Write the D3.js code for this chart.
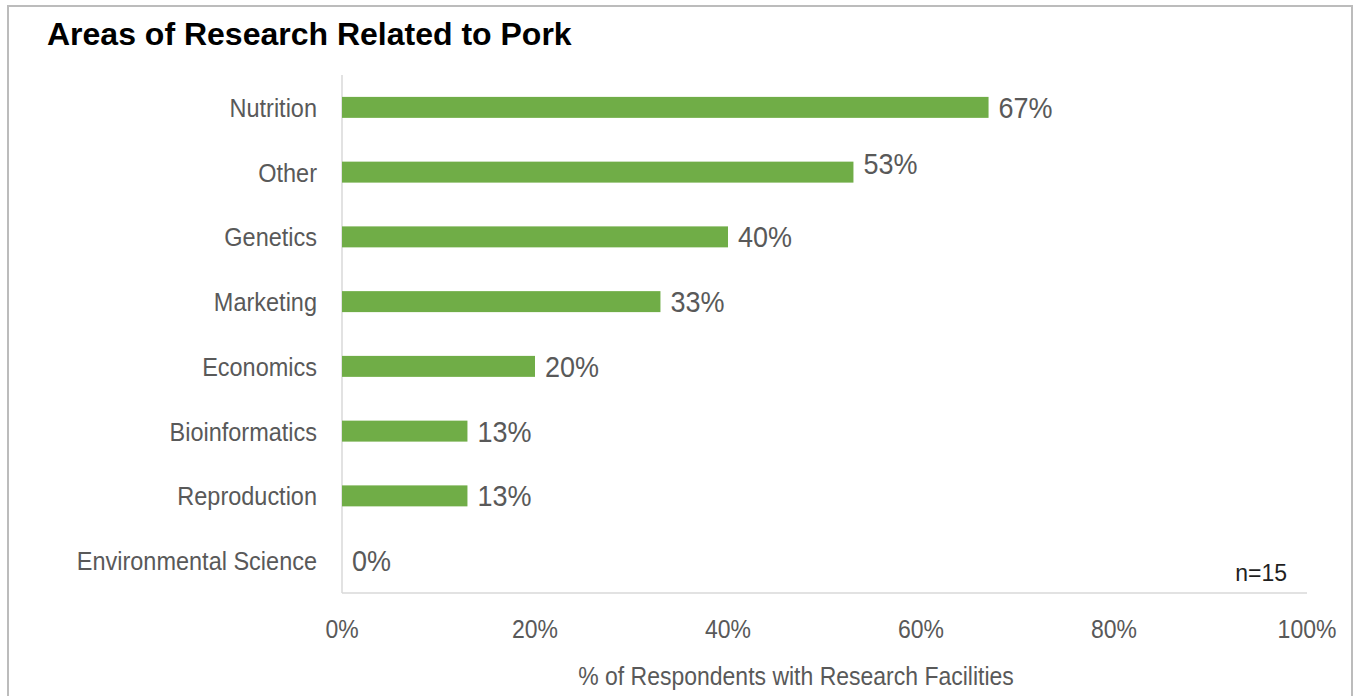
<!DOCTYPE html>
<html>
<head>
<meta charset="utf-8">
<script src="https://cdn.jsdelivr.net/npm/d3@7"></script>
<style>
  html, body { margin: 0; padding: 0; background: #fff; }
  svg { display: block; }
  text { font-family: "Liberation Sans", Arial, sans-serif; }
</style>
</head>
<body>
<script>
// Survey results: share of respondents with research facilities, by research area
const categories = ["Nutrition", "Other", "Genetics", "Marketing", "Economics",
                    "Bioinformatics", "Reproduction", "Environmental Science"];
const values = [67, 53, 40, 33, 20, 13, 13, 0];
const xTicks = [0, 20, 40, 60, 80, 100];
const sampleNote = "n=15";
const chartTitle = "Areas of Research Related to Pork";
const xTitle = "% of Respondents with Research Facilities";

const W = 1354, H = 696;
const SY = 1.1; // the chart's text is set slightly tall

const svg = d3.select("body").append("svg")
  .attr("width", W).attr("height", H);

// panel frame (open at the bottom)
svg.append("path")
  .attr("d", `M8,${H + 2} V6 H1352 V${H + 2}`)
  .attr("fill", "none")
  .attr("stroke", "#bcbcbc")
  .attr("stroke-width", 2);

const plot = { left: 342, right: 1307, top: 75, bottom: 593 };

const x = d3.scaleLinear().domain([0, 100]).range([plot.left, plot.right]);
const pad = 0.676;
const y = d3.scaleBand().domain(categories)
  .range([plot.top, plot.bottom])
  .paddingInner(pad).paddingOuter(pad / 2);

// helper: text anchored at (px, py) baseline, stretched vertically
function tallText(g, px, py, sy) {
  return g.attr("transform", `translate(${px},${py}) scale(1,${sy})`);
}

// title
svg.append("text")
  .attr("x", 47).attr("y", 45)
  .attr("font-size", 32).attr("font-weight", "bold")
  .attr("fill", "#000")
  .text(chartTitle);

// axis lines
svg.append("line")
  .attr("x1", plot.left).attr("x2", plot.left)
  .attr("y1", plot.top).attr("y2", plot.bottom)
  .attr("stroke", "#d9d9d9").attr("stroke-width", 1.5);
svg.append("line")
  .attr("x1", plot.left).attr("x2", plot.right)
  .attr("y1", plot.bottom).attr("y2", plot.bottom)
  .attr("stroke", "#d9d9d9").attr("stroke-width", 1.5);

// bars
svg.append("g").selectAll("rect")
  .data(categories)
  .join("rect")
  .attr("x", x(0))
  .attr("y", d => y(d))
  .attr("width", (d, i) => x(values[i]) - x(0))
  .attr("height", y.bandwidth())
  .attr("fill", "#70ad47");

// category labels
svg.append("g").selectAll("text")
  .data(categories)
  .join("text")
  .each(function (d) {
    tallText(d3.select(this), plot.left - 25, y(d) + y.bandwidth() / 2 + 9.5, SY);
  })
  .attr("text-anchor", "end")
  .attr("font-size", 23.5)
  .attr("fill", "#595959")
  .text(d => d);

// value labels (the "Other" label sits a little higher)
const labelLift = { "Other": -9 };
svg.append("g").selectAll("text")
  .data(categories)
  .join("text")
  .each(function (d, i) {
    tallText(d3.select(this), x(values[i]) + 10,
      y(d) + y.bandwidth() / 2 + 10.5 + (labelLift[d] || 0), SY);
  })
  .attr("font-size", 27)
  .attr("fill", "#595959")
  .text((d, i) => values[i] + "%");

// x tick labels
svg.append("g").selectAll("text")
  .data(xTicks)
  .join("text")
  .each(function (t) { tallText(d3.select(this), x(t), 638, SY); })
  .attr("text-anchor", "middle")
  .attr("font-size", 23)
  .attr("fill", "#595959")
  .text(t => t + "%");

// x axis title
tallText(svg.append("text"), 796, 685, SY)
  .attr("text-anchor", "middle")
  .attr("font-size", 23)
  .attr("fill", "#595959")
  .text(xTitle);

// sample size note
svg.append("text")
  .attr("x", 1287).attr("y", 581)
  .attr("text-anchor", "end")
  .attr("font-size", 23)
  .attr("fill", "#1f1f1f")
  .text(sampleNote);
</script>
</body>
</html>
